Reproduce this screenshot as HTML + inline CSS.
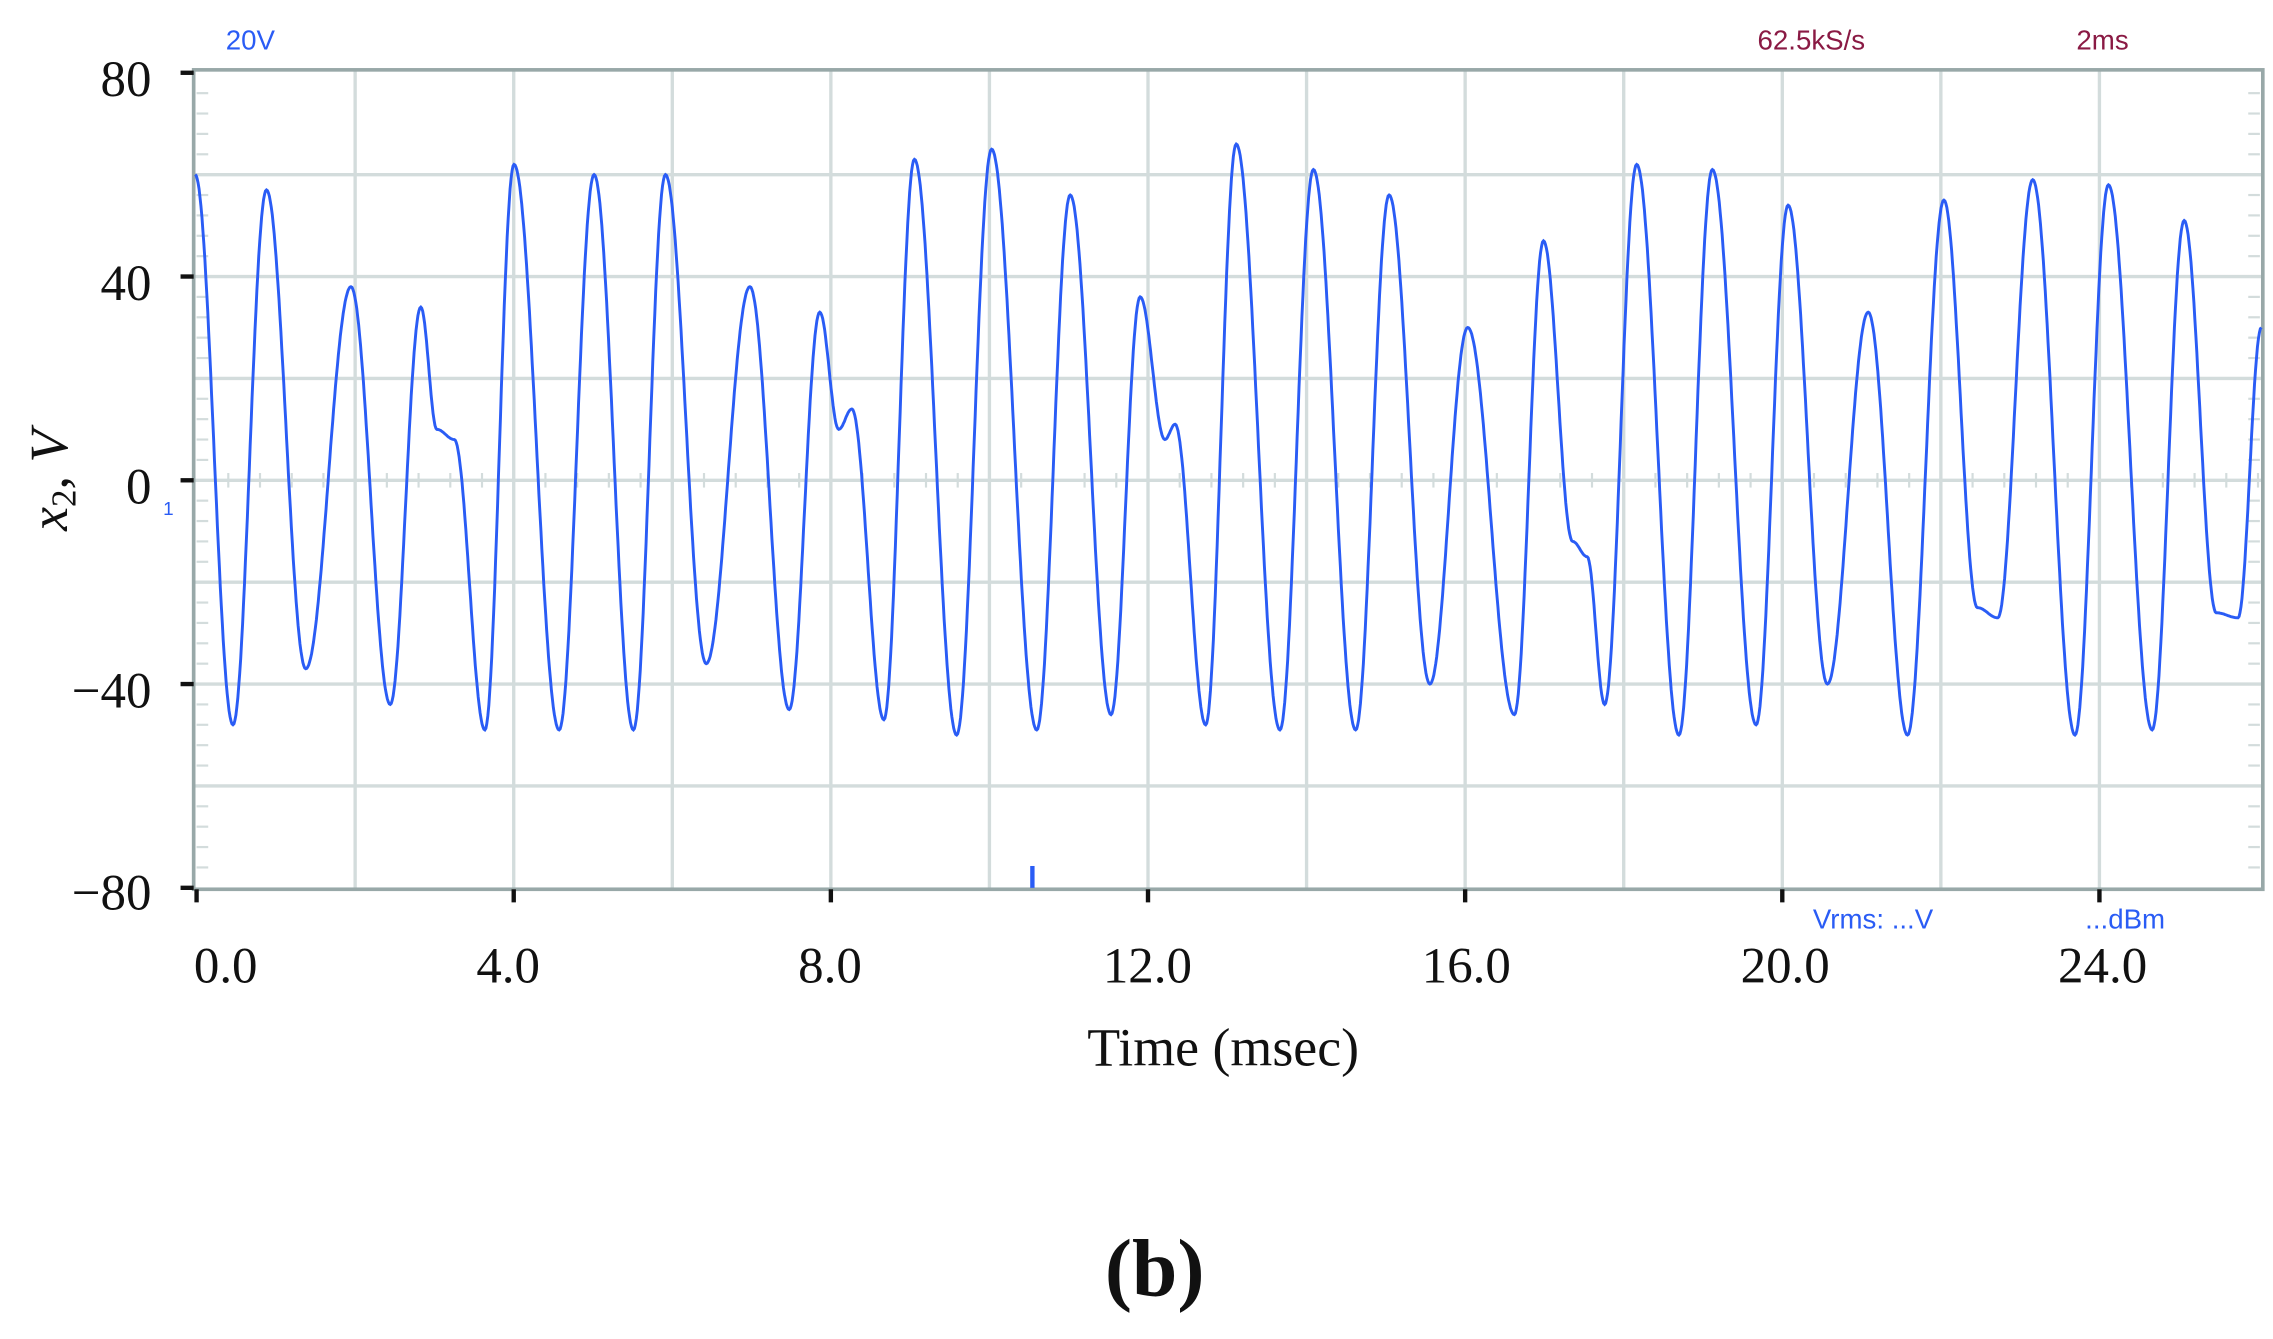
<!DOCTYPE html>
<html><head><meta charset="utf-8"><style>
html,body{margin:0;padding:0;background:#fff;}
svg{display:block;}
</style></head><body>
<svg id="s" width="2273" height="1339" viewBox="0 0 1561 920" preserveAspectRatio="none" xmlns="http://www.w3.org/2000/svg">
<rect x="0" y="0" width="1561" height="920" fill="#fff"/>
<g id="grid" stroke="#d3dcdc" stroke-width="2.3"></g>
<rect x="133" y="48" width="1421" height="563" fill="none" stroke="#98a8a8" stroke-width="2.5"/>
<polyline id="wave" fill="none" stroke="#2a5cf5" stroke-width="2" stroke-linejoin="miter"/>
<line x1="709" y1="595" x2="709" y2="610" stroke="#2a5cf5" stroke-width="3"/>
<g id="ticks" stroke="#111" stroke-width="3"></g>
<g font-family="Liberation Serif, serif" font-size="35" fill="#111">
<text x="104" y="66" text-anchor="end">80</text>
<text x="104" y="206" text-anchor="end">40</text>
<text x="104" y="346" text-anchor="end">0</text>
<text x="104" y="486" text-anchor="end">−40</text>
<text x="104" y="625" text-anchor="end">−80</text>
<text x="155" y="675" text-anchor="middle">0.0</text>
<text x="349" y="675" text-anchor="middle">4.0</text>
<text x="570" y="675" text-anchor="middle">8.0</text>
<text x="788" y="675" text-anchor="middle">12.0</text>
<text x="1007" y="675" text-anchor="middle">16.0</text>
<text x="1226" y="675" text-anchor="middle">20.0</text>
<text x="1444" y="675" text-anchor="middle">24.0</text>
<text x="840" y="732" text-anchor="middle" font-size="37">Time (msec)</text>
<text x="793" y="890" text-anchor="middle" font-weight="bold" font-size="56">(b)</text>
<text transform="translate(46,330) rotate(-90)" text-anchor="middle" font-style="italic" font-size="37">x<tspan font-size="24" dy="6" font-style="normal">2</tspan><tspan dy="-6" font-style="normal">, </tspan>V</text>
</g>
<g font-family="Liberation Sans, sans-serif" font-size="19">
<text x="155" y="34" fill="#2a5cf5">20V</text>
<text x="1207" y="34" fill="#8a1a44">62.5kS/s</text>
<text x="1426" y="34" fill="#8a1a44">2ms</text>
<text x="1245" y="638" fill="#2a5cf5">Vrms: ...V</text>
<text x="1432" y="638" fill="#2a5cf5">...dBm</text>
<text x="112" y="354" fill="#2a5cf5" font-size="13">1</text>
</g>
</svg>
<script>
(function(){
var NS="http://www.w3.org/2000/svg";
var g=document.getElementById('grid');
function ln(p,x1,y1,x2,y2,sw,c){var l=document.createElementNS(NS,'line');l.setAttribute('x1',x1);l.setAttribute('y1',y1);l.setAttribute('x2',x2);l.setAttribute('y2',y2);if(sw)l.setAttribute('stroke-width',sw);if(c)l.setAttribute('stroke',c);p.appendChild(l);}
for(var i=1;i<13;i++){var x=135+i*2*54.45;ln(g,x,48,x,611);}
for(var v=60;v>-80;v-=20){var y=330-v*3.5;ln(g,133,y,1554,y);}
for(var v=76;v>-80;v-=4){var y=330-v*3.5;ln(g,135,y,143,y,1.5);ln(g,1544,y,1552,y,1.5);}
for(var t=0.4;t<26;t+=0.4){var x=135+t*54.45;ln(g,x,325,x,335,1.5);}
var tk=document.getElementById('ticks');
[50,190,330,470,610].forEach(function(y){ln(tk,124,y,133,y);});
for(var i=0;i<7;i++){var x=135+i*4*54.45;ln(tk,x,611,x,620);}
var E=[[134,60],[160,-48],[183,57],[210,-37],[241,38],[268,-44],[289,34],[300,10],[312,8],[333,-49],[353,62],[384,-49],[408,60],[435,-49],[457,60],[485,-36],[515,38],[542,-45],[563,33],[576,10],[585,14],[607,-47],[628,63],[657,-50],[681,65],[712,-49],[735,56],[763,-46],[783,36],[800,8],[807,11],[828,-48],[849,66],[879,-49],[902,61],[931,-49],[954,56],[982,-40],[1008,30],[1040,-46],[1060,47],[1080,-12],[1090,-15],[1102,-44],[1124,62],[1153,-50],[1176,61],[1206,-48],[1228,54],[1255,-40],[1283,33],[1310,-50],[1335,55],[1358,-25],[1372,-27],[1396,59],[1425,-50],[1448,58],[1478,-49],[1500,51],[1522,-26],[1537,-27],[1553,30]];
var pts=[];
for(var k=0;k<E.length-1;k++){var a=E[k],b=E[k+1];var n=Math.max(2,Math.round((b[0]-a[0])*1.5));
for(var j=0;j<n;j++){var f=j/n;var x=a[0]+(b[0]-a[0])*f;var s=(1-Math.cos(Math.PI*f))/2;var v=a[1]+(b[1]-a[1])*s;pts.push(x.toFixed(1)+','+(330-v*3.5).toFixed(1));}}
var L=E[E.length-1];pts.push(L[0]+','+(330-L[1]*3.5));
document.getElementById('wave').setAttribute('points',pts.join(' '));
})();
</script>
</body></html>
